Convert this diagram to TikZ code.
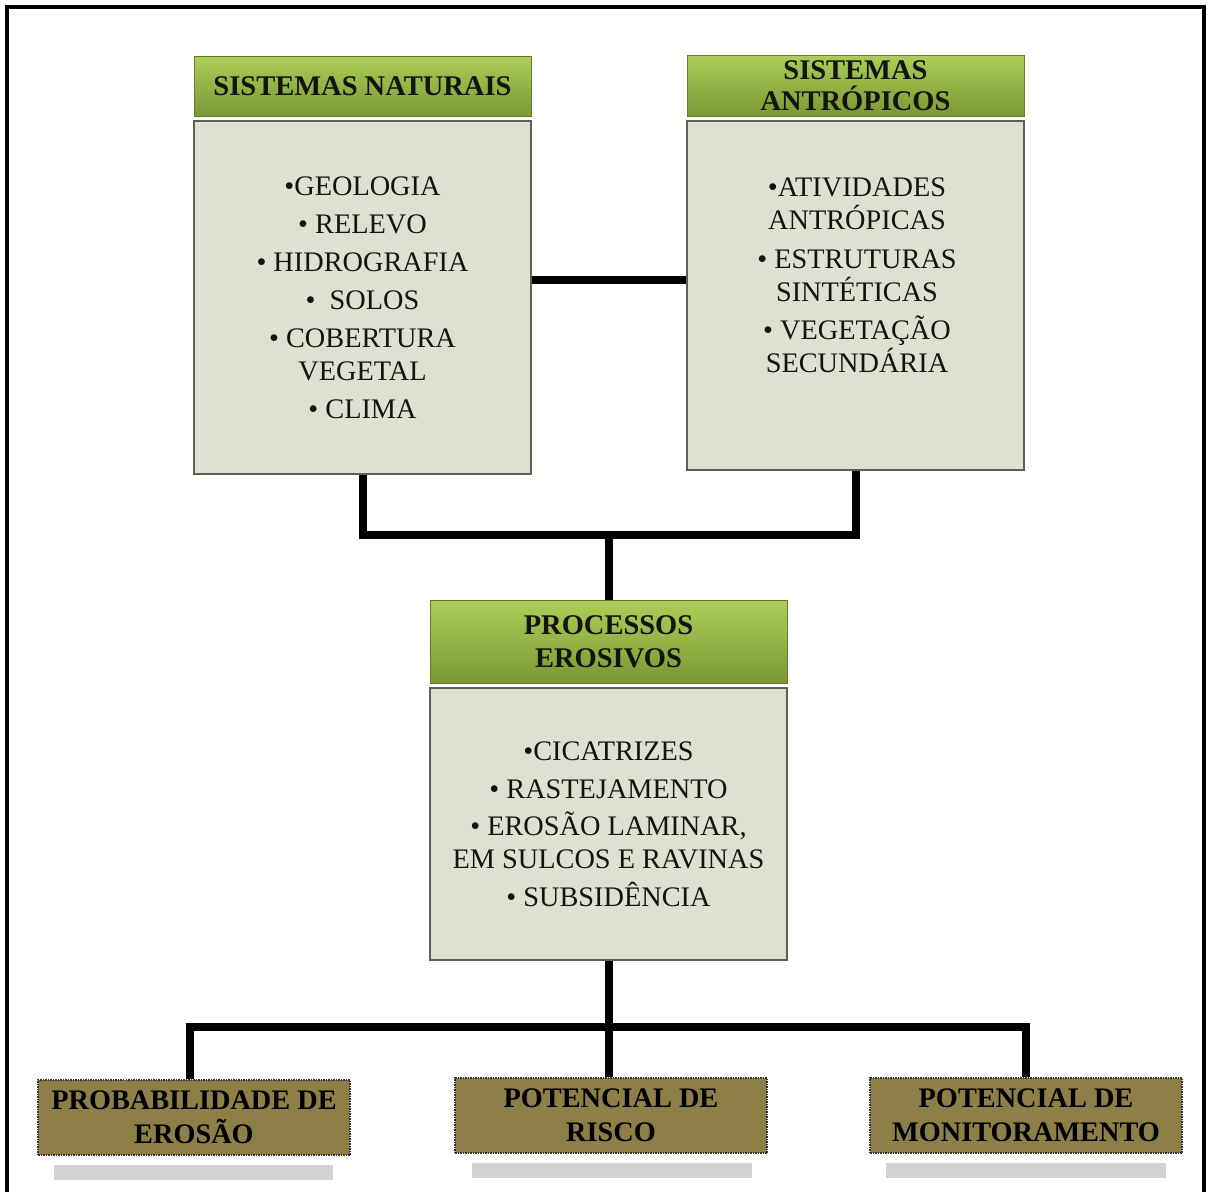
\documentclass[tikz,border=0pt]{standalone}
\usepackage{fontspec}
\setmainfont{Liberation Serif}
\usetikzlibrary{calc}
\definecolor{bodyfill}{RGB}{220,225,210}
\definecolor{bodyline}{RGB}{95,95,90}
\definecolor{greentop}{RGB}{172,206,88}
\definecolor{greenbot}{RGB}{122,152,52}
\definecolor{olive}{RGB}{142,127,72}
\definecolor{shadowgray}{RGB}{210,210,210}
\definecolor{txt}{RGB}{20,20,15}
\tikzset{
  hdr/.style={draw=greenbot!80!black, line width=0.6pt, top color=greentop, bottom color=greenbot,
    inner sep=0pt, align=center, text=txt,
    font=\fontsize{28.5}{31}\selectfont\bfseries},
  bodybox/.style={draw=bodyline, line width=1.5pt, fill=bodyfill, inner sep=0pt, align=center,
    text=txt, font=\fontsize{28.3}{33}\selectfont},
  bodytext/.style={inner sep=0pt, align=center, text=txt, font=\fontsize{28.3}{33}\selectfont},
  outbox/.style={draw=black!80, densely dotted, line width=1.5pt, fill=olive, inner sep=0pt,
    align=center, text=black, minimum width=312pt, minimum height=75pt,
    font=\fontsize{28.3}{34}\selectfont\bfseries},
  conn/.style={line width=8pt, black, line join=miter, line cap=butt},
  shadowbar/.style={fill=shadowgray, draw=none}
}
\begin{document}
\begin{tikzpicture}[x=1pt, y=-1pt]
\useasboundingbox (0,0) rectangle (1209,1191);
\fill[white] (0,0) rectangle (1209,1191);
\draw[line width=4pt] (7,7) rectangle (1204,1210);

% boxes
\node[hdr, minimum width=337pt, minimum height=60pt] (snh) at (362.5,86) {SISTEMAS NATURAIS};
\node[bodybox, minimum width=337pt, minimum height=353pt] (snb) at (362.5,297.5)
  {•GEOLOGIA\\[5pt] • RELEVO\\[5pt] • HIDROGRAFIA\\[5pt] •\ \ SOLOS\\[5pt] • COBERTURA\\ VEGETAL\\[5pt] • CLIMA};

\node[hdr, minimum width=337pt, minimum height=61pt] (sah) at (855.5,85.5) {SISTEMAS\\ ANTRÓPICOS};
\node[bodybox, minimum width=337pt, minimum height=349pt] (sab) at (855.5,295.5) {};
\node[bodytext] (sat) at (857,275)
  {•ATIVIDADES\\ ANTRÓPICAS\\[6pt] • ESTRUTURAS\\ SINTÉTICAS\\[5pt] • VEGETAÇÃO\\ SECUNDÁRIA};

\node[hdr, minimum width=357pt, minimum height=83pt, font=\fontsize{28.5}{33}\selectfont\bfseries] (peh) at (608.5,641.5) {PROCESSOS\\ EROSIVOS};
\node[bodybox, minimum width=357pt, minimum height=272pt] (peb) at (608.5,824)
  {•CICATRIZES\\[5pt] • RASTEJAMENTO\\[4pt] • EROSÃO LAMINAR,\\ EM SULCOS E RAVINAS\\[5pt] • SUBSIDÊNCIA};

% bottom shadows
\fill[shadowbar] (54,1165) rectangle (333,1180);
\fill[shadowbar] (472,1163) rectangle (752,1178);
\fill[shadowbar] (886,1163) rectangle (1166,1178);

\node[outbox] (prob) at (194,1117.5) {PROBABILIDADE DE\\ EROSÃO};
\node[outbox] (risco) at (611,1115.5) {POTENCIAL DE\\ RISCO};
\node[outbox] (mon) at (1026,1115.5) {POTENCIAL DE\\ MONITORAMENTO};

% connectors
\draw[conn] (snb.east |- 0,280) -- (sab.west |- 0,280);
\coordinate (j1) at (608.5,535);
\coordinate (j2) at (608.5,1027);
\draw[conn] (snb.south) |- (j1) -| (sab.south);
\draw[conn] (j1) -- (peh.north);
\draw[conn] (peb.south) -- (j2);
\draw[conn] (prob.north -| 190,0) |- (j2) -| (mon.north);
\draw[conn] (j2) -- (risco.north -| j2);
\end{tikzpicture}
\end{document}
